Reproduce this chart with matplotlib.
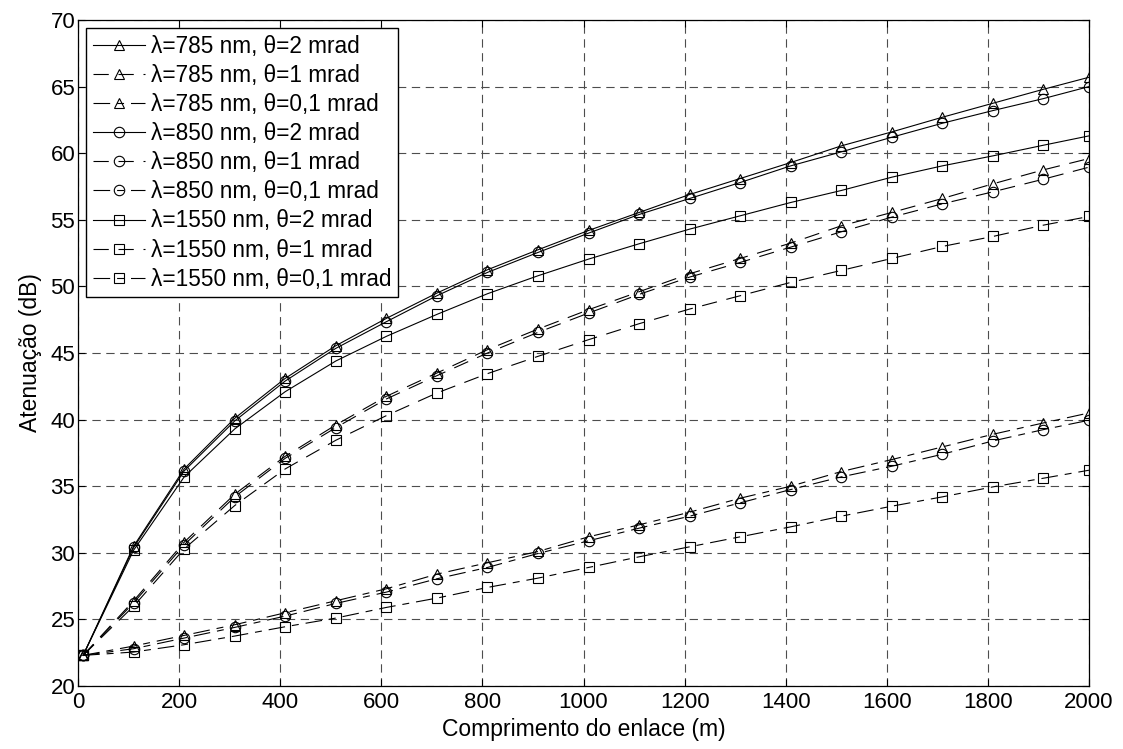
import matplotlib
matplotlib.use('Agg')
import matplotlib.pyplot as plt

plt.rcParams['font.family'] = ['Liberation Sans', 'DejaVu Sans']
plt.rcParams['lines.scale_dashes'] = False

# distance (m)
dist = [10, 110, 210, 310, 410, 510, 610, 710, 810, 910, 1010,
        1110, 1210, 1310, 1410, 1510, 1610, 1710, 1810, 1910, 2000]

# attenuation (dB)
att_785_2 = [22.3, 30.5, 36.3, 40.1, 43.1, 45.55, 47.6, 49.5, 51.25, 52.75, 54.2,
             55.55, 56.9, 58.1, 59.3, 60.55, 61.6, 62.7, 63.75, 64.8, 65.7]
att_785_1 = [22.3, 26.4, 30.8, 34.4, 37.25, 39.6, 41.75, 43.5, 45.25, 46.8, 48.25,
             49.6, 50.95, 52.1, 53.25, 54.55, 55.55, 56.6, 57.7, 58.75, 59.6]
att_785_01 = [22.3, 23.0, 23.8, 24.6, 25.5, 26.4, 27.3, 28.4, 29.25, 30.1, 31.2,
              32.1, 33.05, 34.1, 35.0, 36.1, 37.0, 37.95, 38.9, 39.75, 40.5]
att_850_2 = [22.3, 30.4, 36.15, 39.9, 42.9, 45.35, 47.35, 49.3, 51.05, 52.55, 54.0,
             55.4, 56.6, 57.8, 59.05, 60.1, 61.2, 62.25, 63.2, 64.1, 65.0]
att_850_1 = [22.3, 26.25, 30.6, 34.2, 37.1, 39.4, 41.55, 43.3, 45.0, 46.55, 48.0,
             49.4, 50.7, 51.8, 52.95, 54.1, 55.2, 56.2, 57.1, 58.05, 58.95]
att_850_01 = [22.3, 22.8, 23.6, 24.4, 25.25, 26.2, 27.05, 28.05, 28.9, 29.95, 30.9,
              31.85, 32.75, 33.75, 34.75, 35.7, 36.5, 37.4, 38.4, 39.25, 39.95]
att_1550_2 = [22.3, 30.2, 35.7, 39.3, 42.1, 44.4, 46.25, 47.9, 49.45, 50.8, 52.05,
              53.2, 54.3, 55.3, 56.3, 57.2, 58.2, 59.05, 59.8, 60.6, 61.3]
att_1550_1 = [22.3, 26.0, 30.3, 33.55, 36.3, 38.45, 40.3, 42.0, 43.45, 44.75, 46.0,
              47.2, 48.3, 49.3, 50.3, 51.2, 52.1, 53.0, 53.75, 54.6, 55.25]
att_1550_01 = [22.3, 22.55, 23.1, 23.75, 24.45, 25.1, 25.9, 26.6, 27.4, 28.1, 28.9,
               29.7, 30.45, 31.2, 31.95, 32.75, 33.5, 34.2, 34.95, 35.6, 36.2]

labels = ['λ=785 nm, θ=2 mrad', 'λ=785 nm, θ=1 mrad', 'λ=785 nm, θ=0,1 mrad',
          'λ=850 nm, θ=2 mrad', 'λ=850 nm, θ=1 mrad', 'λ=850 nm, θ=0,1 mrad',
          'λ=1550 nm, θ=2 mrad', 'λ=1550 nm, θ=1 mrad', 'λ=1550 nm, θ=0,1 mrad']
series = [att_785_2, att_785_1, att_785_01,
          att_850_2, att_850_1, att_850_01,
          att_1550_2, att_1550_1, att_1550_01]
markers = ['^', '^', '^', 'o', 'o', 'o', 's', 's', 's']
dashes = [None, (11, 7), (12, 5, 5, 5)] * 3

fig = plt.figure(figsize=(11.23, 7.49), dpi=100)
ax = fig.add_axes([0.0695, 0.0841, 0.9002, 0.8892])

for y, lab, m, d in zip(series, labels, markers, dashes):
    line, = ax.plot(dist, y, color='black', lw=0.8, marker=m, markersize=7.5,
                    mfc='none', mec='black', mew=0.8, label=lab)
    if d is not None:
        line.set_dashes(d)

ax.set_xlim(0, 2000)
ax.set_ylim(20, 70)
ax.set_xticks(range(0, 2001, 200))
ax.set_yticks(range(20, 71, 5))
ax.tick_params(direction='in', length=5, labelsize=16, top=True, right=True, pad=2)
ax.tick_params(axis='x', pad=4)
ax.grid(True, color='0.3', lw=0.8, linestyle=(0, (6, 4)))
for sp in ax.spines.values():
    sp.set_linewidth(0.9)

ax.set_xlabel('Comprimento do enlace (m)', fontsize=16.5, labelpad=4)
ax.set_ylabel('Atenuação (dB)', fontsize=16.5, labelpad=6)

leg = ax.legend(loc='upper left', bbox_to_anchor=(0.008, 0.988), fontsize=16.3,
                fancybox=False, framealpha=1, edgecolor='black', handlelength=2.3,
                handletextpad=0.25, labelspacing=0.27, borderpad=0.3, borderaxespad=0)
leg.get_frame().set_linewidth(1.0)

fig.savefig('out.png', dpi=100)
